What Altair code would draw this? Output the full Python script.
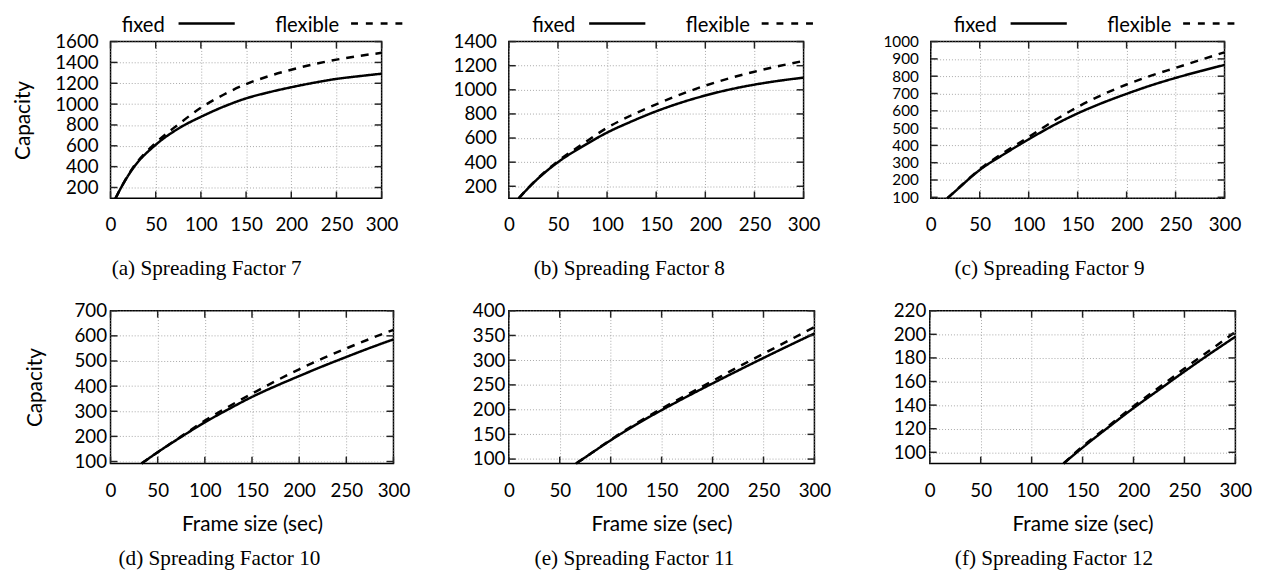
import altair as alt
import pandas as pd

SERIES = ["fixed", "flexible"]
X_TICKS = [0, 50, 100, 150, 200, 250, 300]

# Spreading Factor 7
SF7_FRAME = [5.5, 15, 25, 50, 75, 100, 125, 150, 175, 200, 225, 250, 275, 300]
SF7_FIXED = [96, 250, 385, 610, 765, 878, 975, 1055, 1113, 1162, 1205, 1242, 1268, 1292]
SF7_FLEX = [96, 252, 392, 628, 805, 965, 1090, 1192, 1268, 1330, 1383, 1427, 1462, 1492]
SF7_TICKS = [200, 400, 600, 800, 1000, 1200, 1400, 1600]

# Spreading Factor 8
SF8_FRAME = [10, 25, 50, 75, 100, 125, 150, 175, 200, 225, 250, 275, 300]
SF8_FIXED = [100, 228, 400, 530, 645, 738, 822, 893, 953, 1003, 1043, 1075, 1101]
SF8_FLEX = [100, 230, 408, 550, 685, 790, 880, 962, 1035, 1097, 1150, 1197, 1240]
SF8_TICKS = [200, 400, 600, 800, 1000, 1200, 1400]

# Spreading Factor 9
SF9_FRAME = [16.8, 25, 50, 75, 100, 125, 150, 175, 200, 225, 250, 275, 300]
SF9_FIXED = [94, 135, 258, 350, 435, 515, 585, 645, 698, 747, 790, 829, 865]
SF9_FLEX = [94, 136, 262, 360, 448, 540, 622, 692, 752, 803, 848, 893, 938]
SF9_TICKS = [100, 200, 300, 400, 500, 600, 700, 800, 900, 1000]

# Spreading Factor 10
SF10_FRAME = [32.8, 50, 75, 100, 125, 150, 175, 200, 225, 250, 275, 300]
SF10_FIXED = [92, 137, 198, 256, 308, 357, 400, 440, 479, 516, 552, 586]
SF10_FLEX = [92, 137, 200, 263, 318, 370, 420, 467, 510, 550, 588, 624]
SF10_TICKS = [100, 200, 300, 400, 500, 600, 700]

# Spreading Factor 11
SF11_FRAME = [66, 75, 100, 125, 150, 175, 200, 225, 250, 275, 300]
SF11_FIXED = [91, 103.5, 138, 170, 199, 226.5, 253, 279, 304.5, 329.5, 354]
SF11_FLEX = [91, 103.5, 139, 172, 202, 230, 258, 286, 313, 340, 367]
SF11_TICKS = [100, 150, 200, 250, 300, 350, 400]

# Spreading Factor 12
SF12_FRAME = [131.3, 150, 175, 200, 225, 250, 275, 300]
SF12_FIXED = [90.5, 104, 121, 137.5, 153, 168.5, 183.5, 198]
SF12_FLEX = [90.5, 105, 122, 139, 155, 171, 186.5, 202]
SF12_TICKS = [100, 120, 140, 160, 180, 200, 220]

CAPTIONS = ["(a) Spreading Factor 7", "(b) Spreading Factor 8", "(c) Spreading Factor 9",
            "(d) Spreading Factor 10", "(e) Spreading Factor 11", "(f) Spreading Factor 12"]
Y_TITLE = "Capacity"
X_TITLE = "Frame size (sec)"

FONT = "Lato"
CAP_FONT = "Liberation Serif"
FS = 19
LEG_FS = 20.5
TITLE_FS = 21
TICK_COLOR = "#222222"
GRID_COLOR = "#a8a8a8"
ONE = pd.DataFrame({"k": [0]})


def panel(frame, fixed, flex, ydom, yticks, w, h, plot_left, cell_x, cell_y,
          caption, cap_x, cap_base, ytitle, xtitle, ylab_pad, legend_anchor, ylab_fs=FS):
    df = pd.DataFrame(
        [{"frame": f, "capacity": v, "series": SERIES[0]} for f, v in zip(frame, fixed)]
        + [{"frame": f, "capacity": v, "series": SERIES[1]} for f, v in zip(frame, flex)]
    )
    xscale = alt.Scale(domain=[0, 300], nice=False, zero=False)
    yscale = alt.Scale(domain=ydom, nice=False, zero=False)

    xaxis_kw = dict(
        values=X_TICKS, format="d", grid=True, gridDash=[1, 2], gridColor=GRID_COLOR,
        gridWidth=1, domain=False, ticks=False, tickSize=0,
        labelFont=FONT, labelFontSize=FS, labelColor="black", labelPadding=33,
        labelBaseline="alphabetic", labelFlush=False, labelOverlap=False,
    )
    if xtitle:
        xaxis_kw.update(title=xtitle, titleFont=FONT, titleFontSize=TITLE_FS,
                        titleFontWeight="normal", titleColor="black", titleX=w / 2,
                        titleY=67.5, titleBaseline="alphabetic", titleAlign="center")
    else:
        xaxis_kw.update(title=None)
    yaxis_kw = dict(
        values=yticks, format="d", grid=True, gridDash=[1, 2], gridColor=GRID_COLOR,
        gridWidth=1, domain=False, ticks=False, tickSize=0,
        labelFont=FONT, labelFontSize=ylab_fs, labelColor="black", labelPadding=ylab_pad,
        labelBaseline="middle", labelFlush=False, labelOverlap=False,
    )
    if ytitle:
        yaxis_kw.update(title=ytitle, titleFont=FONT, titleFontSize=TITLE_FS,
                        titleFontWeight="normal", titleColor="black", titleAngle=270,
                        titleX=28.7 - plot_left, titleY=h / 2, titleBaseline="alphabetic",
                        titleAlign="center")
    else:
        yaxis_kw.update(title=None)

    cell = alt.Chart(ONE).mark_rect(fill="white", opacity=0).encode(
        x=alt.value(cell_x[0]), x2=alt.value(cell_x[1]),
        y=alt.value(cell_y[0]), y2=alt.value(cell_y[1]),
    )

    lines = alt.Chart(df).mark_line(
        color="black", strokeWidth=2.5, interpolate="monotone", strokeCap="butt"
    ).encode(
        x=alt.X("frame:Q", scale=xscale, axis=alt.Axis(**xaxis_kw)),
        y=alt.Y("capacity:Q", scale=yscale, axis=alt.Axis(**yaxis_kw)),
        strokeDash=alt.StrokeDash(
            "series:N", scale=alt.Scale(domain=SERIES, range=[[1, 0], [8, 7]]), legend=None
        ),
    )

    xt = pd.DataFrame({"frame": X_TICKS})
    yt = pd.DataFrame({"capacity": yticks})
    tick_mark = dict(color=TICK_COLOR, strokeWidth=1.5)
    xt_top = alt.Chart(xt).mark_rule(**tick_mark).encode(
        x=alt.X("frame:Q", scale=xscale, axis=alt.Axis(**xaxis_kw)),
        y=alt.value(0), y2=alt.value(7))
    xt_bot = alt.Chart(xt).mark_rule(**tick_mark).encode(
        x=alt.X("frame:Q", scale=xscale, axis=alt.Axis(**xaxis_kw)),
        y=alt.value(h), y2=alt.value(h - 7))
    yt_left = alt.Chart(yt).mark_rule(**tick_mark).encode(
        y=alt.Y("capacity:Q", scale=yscale, axis=alt.Axis(**yaxis_kw)),
        x=alt.value(0), x2=alt.value(7))
    yt_right = alt.Chart(yt).mark_rule(**tick_mark).encode(
        y=alt.Y("capacity:Q", scale=yscale, axis=alt.Axis(**yaxis_kw)),
        x=alt.value(w - 7), x2=alt.value(w))

    cap = alt.Chart(ONE).mark_text(
        text=caption, font=CAP_FONT, fontSize=21.5, align="center", baseline="alphabetic",
        color="black",
    ).encode(x=alt.value(cap_x), y=alt.value(cap_base))

    layers = [cell, lines, xt_top, xt_bot, yt_left, yt_right, cap]

    if legend_anchor is not None:
        a = legend_anchor
        ty = -9.5
        ly = -18.3
        layers += [
            alt.Chart(ONE).mark_text(text=SERIES[0], font=FONT, fontSize=LEG_FS, align="right",
                                     baseline="alphabetic", color="black"
                                     ).encode(x=alt.value(a - 242), y=alt.value(ty)),
            alt.Chart(ONE).mark_rule(color="black", strokeWidth=2.5).encode(
                x=alt.value(a - 228), x2=alt.value(a - 171), y=alt.value(ly)),
            alt.Chart(ONE).mark_text(text=SERIES[1], font=FONT, fontSize=LEG_FS, align="right",
                                     baseline="alphabetic", color="black"
                                     ).encode(x=alt.value(a - 65), y=alt.value(ty)),
            alt.Chart(ONE).mark_rule(color="black", strokeWidth=2.5, strokeDash=[7, 8]).encode(
                x=alt.value(a - 53), x2=alt.value(a), y=alt.value(ly)),
        ]

    return alt.layer(*layers).properties(width=w, height=h)


TOP_CELL_Y = (-31, 252.5)
BOT_CELL_Y = (-17.5, 263)

pa = panel(SF7_FRAME, SF7_FIXED, SF7_FLEX, [96, 1600], SF7_TICKS, 275, 159, 111,
           (-103, 309), TOP_CELL_Y, CAPTIONS[0], 97.5, 236.5, Y_TITLE, None, 12.5, 297)
pb = panel(SF8_FRAME, SF8_FIXED, SF8_FLEX, [100, 1400], SF8_TICKS, 299, 159, 512.3,
           (-92.3, 332.7), TOP_CELL_Y, CAPTIONS[1], 122.2, 236.5, None, None, 12.5, 309.5)
pc = panel(SF9_FRAME, SF9_FIXED, SF9_FLEX, [94, 1000], SF9_TICKS, 298, 159, 937.5,
           (-92.5, 324.5), TOP_CELL_Y, CAPTIONS[2], 120.5, 236.5, None, None, 12.5, 309,
           ylab_fs=15.5)

pd_ = panel(SF10_FRAME, SF10_FIXED, SF10_FLEX, [92, 700], SF10_TICKS, 287, 155, 99,
            (-91, 321), BOT_CELL_Y, CAPTIONS[3], 110.5, 257.5, Y_TITLE, X_TITLE, 4, None)
pe = panel(SF11_FRAME, SF11_FIXED, SF11_FLEX, [91, 400], SF11_TICKS, 310, 155, 501,
           (-81, 344), BOT_CELL_Y, CAPTIONS[4], 127.5, 257.5, None, X_TITLE, 4, None)
pf = panel(SF12_FRAME, SF12_FIXED, SF12_FLEX, [90.5, 220], SF12_TICKS, 310, 155, 926,
           (-81, 336), BOT_CELL_Y, CAPTIONS[5], 126, 257.5, None, X_TITLE, 4, None)

row1 = alt.hconcat(pa, pb, pc, spacing=0)
row2 = alt.hconcat(pd_, pe, pf, spacing=0)

chart = alt.vconcat(row1, row2, spacing=0).properties(
    padding={"top": -2, "left": 0, "right": 0, "bottom": 0}
).configure_view(
    stroke="black", strokeWidth=1.5
).configure_concat(spacing=0)

chart.save("out.html", embed_options={"renderer": "svg", "actions": False})
